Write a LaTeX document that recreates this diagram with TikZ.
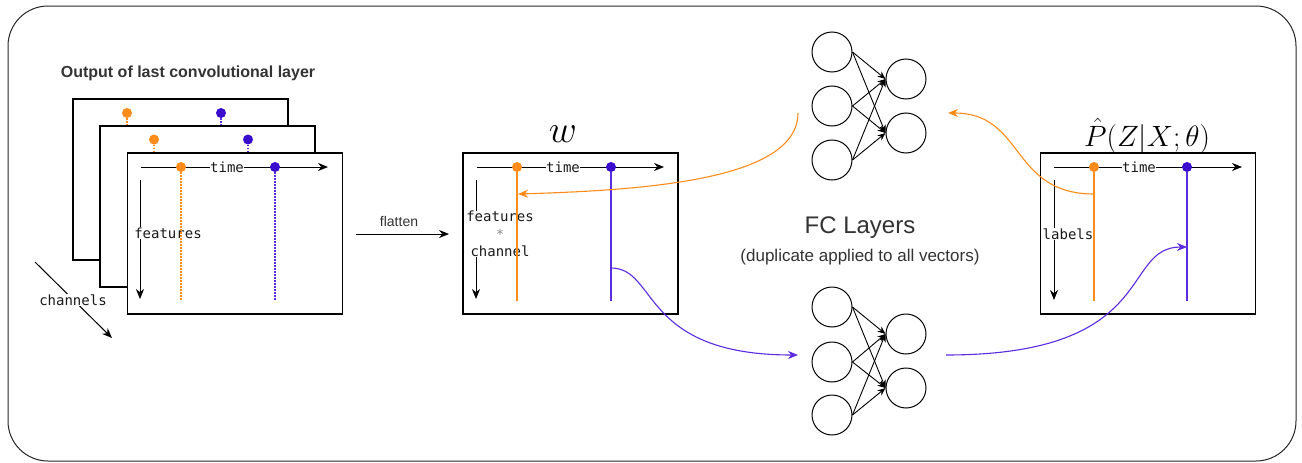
\documentclass[tikz,border=0pt]{standalone}
\usepackage{graphicx}
\usepackage{fontspec}
\setmainfont{Liberation Sans}
\newfontfamily\monofont{DejaVu Sans Mono}
\usetikzlibrary{arrows.meta}
\definecolor{orng}{HTML}{FF8C1A}
\definecolor{purp}{HTML}{3A0CCC}
\definecolor{purpl}{HTML}{5A2BE0}
\definecolor{txt}{HTML}{333333}
\begin{document}
\begin{tikzpicture}[x=1pt,y=-1pt,
  frame/.style={draw=black, line width=1.1pt, fill=white, minimum width=215pt, minimum height=161pt, inner sep=0pt},
  ax/.style={draw=black, line width=1pt, -{Stealth[length=10pt,width=8pt]}},
  mono/.style={font=\monofont\fontsize{14}{17.5}\selectfont, inner sep=0.5pt, fill=white, text=black!90},
  dot/.style={circle, inner sep=0pt, minimum size=10pt},
  odot/.style={dot, fill=orng},
  pdot/.style={dot, fill=purp},
  dotline/.style={line width=2pt, dash pattern=on 1.6pt off 1.4pt},
  solline/.style={line width=2.3pt},
  neuron/.style={circle, draw=black, line width=1pt, minimum size=40pt, inner sep=0pt},
  netarrow/.style={draw=black, line width=0.9pt, -{Stealth[length=8pt,width=6.5pt]}},
  curvearrow/.style={line width=1.1pt, -{Stealth[length=10pt,width=8pt]}},
]
\useasboundingbox (0,0) rectangle (1302,463);
% outer frame
\draw[rounded corners=40pt, line width=1pt, draw=black!85] (8,6) rectangle (1296,461);

% title
\node[font=\bfseries\fontsize{16}{19}\selectfont, text=txt] (title) at (188,73) {Output of last convolutional layer};

% stacked boxes
\node[frame] (b1) at (180.5,179.5) {};
\node[odot] (d1o) at (127,113) {};
\node[pdot] (d1p) at (221,113) {};
\coordinate (s1o) at (127,135);
\coordinate (s1p) at (221,135);
\draw[dotline, orng] (d1o) -- (s1o);
\draw[dotline, purpl] (d1p) -- (s1p);

\node[frame] (b2) at (207.5,206.5) {};
\node[odot] (d2o) at (154,139.5) {};
\node[pdot] (d2p) at (248,139.5) {};
\coordinate (s2o) at (154,160);
\coordinate (s2p) at (248,160);
\draw[dotline, orng] (d2o) -- (s2o);
\draw[dotline, purpl] (d2p) -- (s2p);

\node[frame] (b3) at (235,233.5) {};
\coordinate (t3s) at (141,167);
\coordinate (t3e) at (328,167);
\draw[ax] (t3s) -- (t3e);
\coordinate (f3s) at (140,180);
\coordinate (f3e) at (140,299);
\draw[ax] (f3s) -- (f3e);
\node[mono] (time3) at (227,167) {time};
\node[mono] (feat3) at (168,233) {features};
\node[odot] (d3o) at (181,167) {};
\node[pdot] (d3p) at (275,167) {};
\coordinate (e3o) at (181,301);
\coordinate (e3p) at (275,301);
\draw[dotline, orng] (d3o) -- (e3o);
\draw[dotline, purpl] (d3p) -- (e3p);

% channels arrow
\coordinate (chs) at (35,262);
\coordinate (che) at (112,338);
\draw[ax] (chs) -- (che);
\node[mono] (chl) at (73,300) {channels};

% flatten arrow
\coordinate (fls) at (356,234);
\coordinate (fle) at (449,234);
\draw[ax] (fls) -- (fle);
\node[font=\fontsize{14}{16}\selectfont, text=txt] (flt) at (399,221) {flatten};

% w box
\node[inner sep=0pt] (wl) at (563,134) {\scalebox{1.55}{\Huge$w$}};
\node[frame] (wb) at (570.5,233.5) {};
\coordinate (tws) at (477,167);
\coordinate (twe) at (664,167);
\draw[ax] (tws) -- (twe);
\coordinate (fws) at (476,180);
\coordinate (fwe) at (476,299);
\draw[ax] (fws) -- (fwe);
\node[mono] (timew) at (563,167) {time};
\node[mono, align=center] (featw) at (500,234) {features\\{\color{black!45}*}\\channel};
\node[odot] (dwo) at (517,167) {};
\node[pdot] (dwp) at (611,167) {};
\coordinate (ewo) at (517,301);
\coordinate (ewp) at (611,301);
\draw[solline, orng] (dwo) -- (ewo);
\draw[solline, purpl] (dwp) -- (ewp);
\coordinate (wO) at (518,194);
\coordinate (wP) at (611,268);

% P box
\node[inner sep=0pt] (pl) at (1147,136) {\scalebox{1.18}{\Huge$\hat{P}(Z|X;\theta)$}};
\node[frame] (pb) at (1148,233.5) {};
\coordinate (tps) at (1054,167);
\coordinate (tpe) at (1242,167);
\draw[ax] (tps) -- (tpe);
\coordinate (fps) at (1054,180);
\coordinate (fpe) at (1054,300);
\draw[ax] (fps) -- (fpe);
\node[mono] (timep) at (1139,167) {time};
\node[mono] (labp) at (1068,234) {labels};
\node[odot] (dpo) at (1094,167) {};
\node[pdot] (dpp) at (1187,167) {};
\coordinate (epo) at (1094,301);
\coordinate (epp) at (1187,301);
\draw[solline, orng] (dpo) -- (epo);
\draw[solline, purpl] (dpp) -- (epp);
\coordinate (pO) at (1094,194);
\coordinate (pP) at (1187,247);

% FC networks
\node[neuron] (a1) at (832,52) {};
\node[neuron] (a2) at (832,106) {};
\node[neuron] (a3) at (832,160) {};
\node[neuron] (b1n) at (906,79) {};
\node[neuron] (b2n) at (906,133) {};
\foreach \i in {1,2,3} \foreach \j in {1,2} \draw[netarrow] (a\i.east) -- (b\j n.west);

\node[neuron] (c1) at (832,307) {};
\node[neuron] (c2) at (832,362) {};
\node[neuron] (c3) at (832,415) {};
\node[neuron] (d1n) at (906,334) {};
\node[neuron] (d2n) at (906,388) {};
\foreach \i in {1,2,3} \foreach \j in {1,2} \draw[netarrow] (c\i.east) -- (d\j n.west);

\node[font=\fontsize{24}{28}\selectfont, text=txt] (fc) at (860,228) {FC Layers};
\node[font=\fontsize{17}{20}\selectfont, text=txt] (dup) at (860,257) {(duplicate applied to all vectors)};

% curved connectors
\coordinate (oTop) at (798,113);
\draw[curvearrow, orng] (oTop) .. controls (798,178) and (655,190) .. (wO);
\coordinate (pBot) at (798,355);
\draw[curvearrow, purpl] (wP) .. controls (658,268) and (640,355) .. (pBot);
\coordinate (oRight) at (948,113);
\draw[curvearrow, orng] (pO) .. controls (1010,194) and (1025,113) .. (oRight);
\coordinate (pRight) at (946,355);
\draw[curvearrow, purpl] (pRight) .. controls (1160,355) and (1120,247) .. (pP);
\end{tikzpicture}
\end{document}
